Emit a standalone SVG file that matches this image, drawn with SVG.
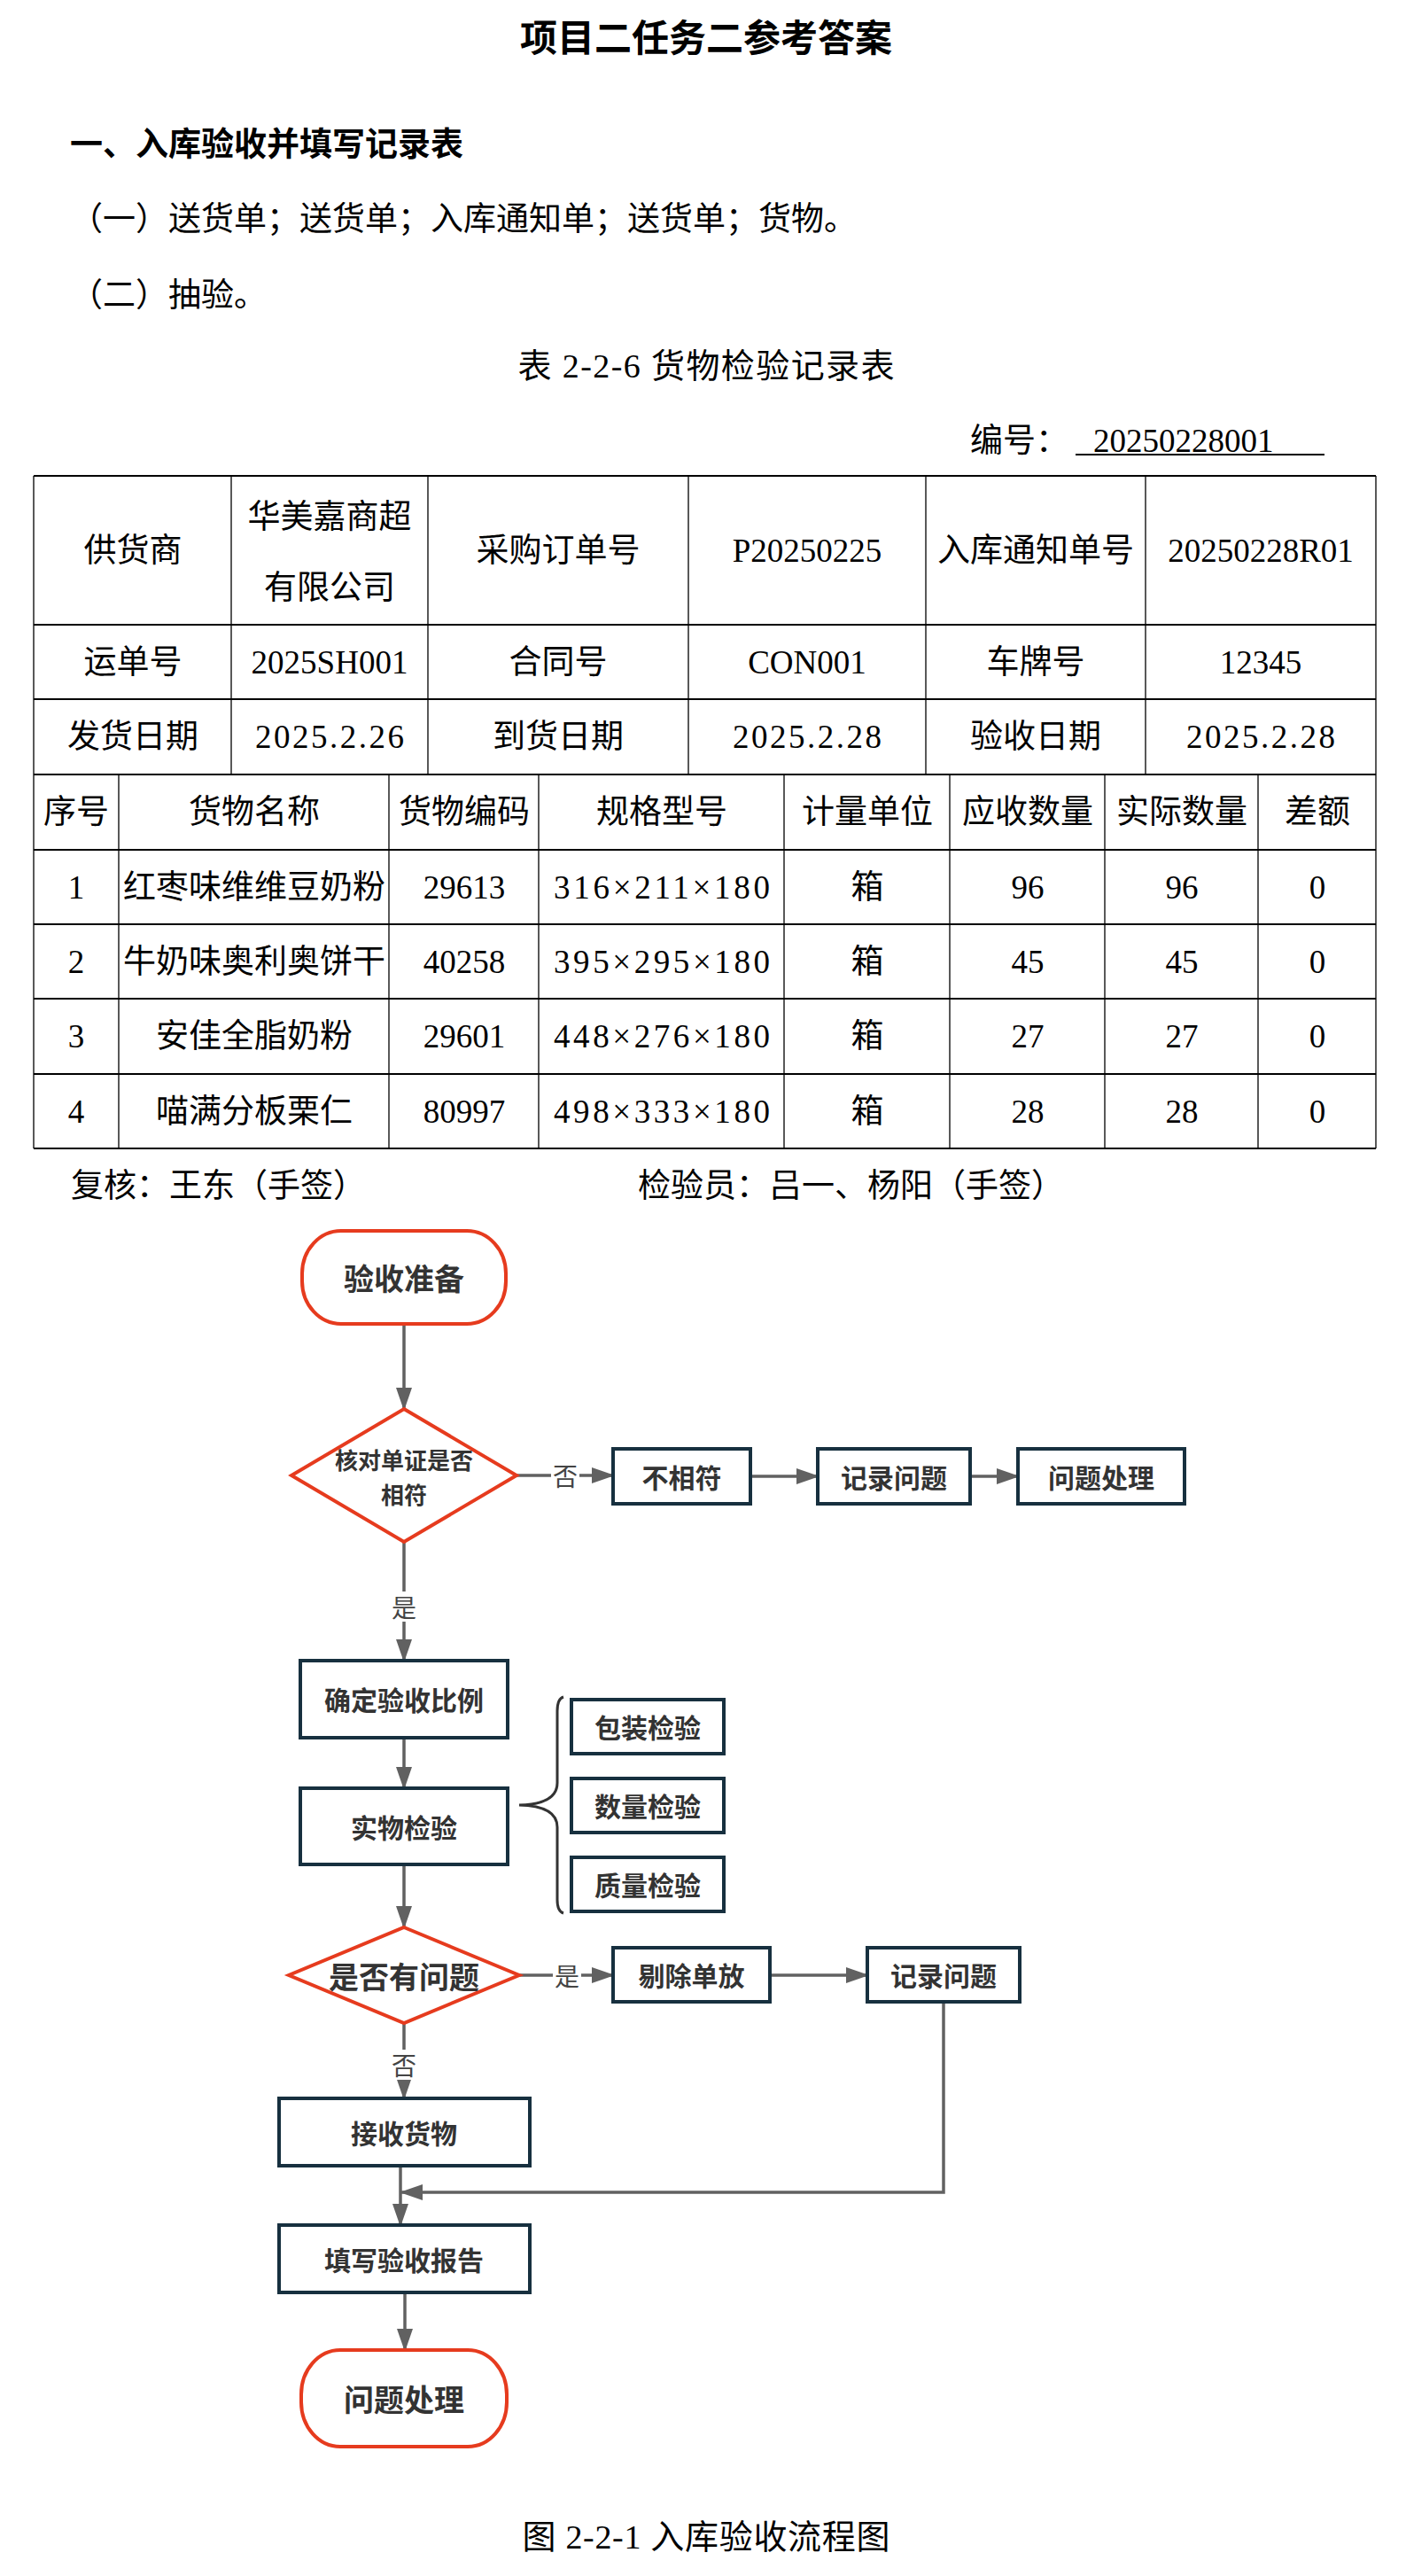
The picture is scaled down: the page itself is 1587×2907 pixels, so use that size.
<svg xmlns="http://www.w3.org/2000/svg" width="1587" height="2907" viewBox="0 0 1587 2907">
<style>
.doc{font-family:"Liberation Serif","Noto Sans CJK SC",serif;fill:#000;}
.t37{font-size:37px;}
.c{text-anchor:middle;dominant-baseline:central;}
.l{dominant-baseline:central;}
.grid{stroke:#000;fill:none;}
.box{fill:#fff;stroke:#17303f;stroke-width:4;}
.red{fill:#fff;stroke:#e63b1e;stroke-width:4;}
.ft{font-family:"Noto Sans CJK SC","Noto Sans",sans-serif;font-weight:bold;fill:#333;text-anchor:middle;dominant-baseline:central;}
.lbl{font-family:"Noto Sans CJK SC","Noto Sans",sans-serif;font-size:28px;fill:#444;text-anchor:middle;dominant-baseline:central;}
.conn{stroke:#616161;stroke-width:3.5;fill:none;}
</style>
<defs>
<marker id="ah" viewBox="0 0 26 18" refX="24" refY="9" markerWidth="26" markerHeight="18" markerUnits="userSpaceOnUse" orient="auto">
<path d="M0,0 L26,9 L0,18 z" fill="#616161"/>
</marker>
</defs>
<rect width="1587" height="2907" fill="#fff"/>

<!-- heading texts -->
<g id="header" class="doc">
<text x="797" y="44" class="c" font-size="42" font-weight="bold">项目二任务二参考答案</text>
<text x="79" y="163" class="l" font-size="37" font-weight="bold">一、入库验收并填写记录表</text>
<text x="79" y="247" class="l t37">（一）送货单；送货单；入库通知单；送货单；货物。</text>
<text x="79" y="333" class="l t37">（二）抽验。</text>
<text x="797" y="413" class="c" font-size="38" textLength="425" lengthAdjust="spacing">表 2-2-6 货物检验记录表</text>
<text x="1095" y="497" class="l t37">编号：</text>
<text x="1234" y="497" class="l t37">20250228001</text>
<line x1="1214" y1="513" x2="1495" y2="513" stroke="#000" stroke-width="2"/>
</g>

<!-- table -->
<g id="table-grid" class="grid">
<path stroke-width="2" d="M38,537H1553 M38,705H1553 M38,789H1553 M38,874H1553 M38,959H1553 M38,1043H1553 M38,1127H1553 M38,1212H1553 M38,1296H1553"/>
<path stroke-width="1.3" d="M38,537V1296 M1553,537V1296 M261,537V874 M483,537V874 M777,537V874 M1045,537V874 M1293,537V874 M134,874V1296 M439,874V1296 M608,874V1296 M885,874V1296 M1072,874V1296 M1247,874V1296 M1420,874V1296"/>
</g>
<g id="table-text" class="doc t37">
<text x="150" y="621" class="c">供货商</text>
<text x="372" y="583" class="c">华美嘉商超</text>
<text x="372" y="663" class="c">有限公司</text>
<text x="630" y="621" class="c">采购订单号</text>
<text x="911" y="621" class="c">P20250225</text>
<text x="1169" y="621" class="c">入库通知单号</text>
<text x="1423" y="621" class="c">20250228R01</text>
<text x="150" y="747" class="c">运单号</text>
<text x="372" y="747" class="c">2025SH001</text>
<text x="630" y="747" class="c">合同号</text>
<text x="911" y="747" class="c">CON001</text>
<text x="1169" y="747" class="c">车牌号</text>
<text x="1423" y="747" class="c">12345</text>
<text x="150" y="831" class="c">发货日期</text>
<text x="372" y="831" class="c" textLength="168" lengthAdjust="spacing">2025.2.26</text>
<text x="630" y="831" class="c">到货日期</text>
<text x="911" y="831" class="c" textLength="168" lengthAdjust="spacing">2025.2.28</text>
<text x="1169" y="831" class="c">验收日期</text>
<text x="1423" y="831" class="c" textLength="168" lengthAdjust="spacing">2025.2.28</text>
<text x="86" y="916" class="c">序号</text>
<text x="287" y="916" class="c">货物名称</text>
<text x="524" y="916" class="c">货物编码</text>
<text x="747" y="916" class="c">规格型号</text>
<text x="979" y="916" class="c">计量单位</text>
<text x="1160" y="916" class="c">应收数量</text>
<text x="1334" y="916" class="c">实际数量</text>
<text x="1487" y="916" class="c">差额</text>
<text x="86" y="1001" class="c">1</text>
<text x="287" y="1001" class="c">红枣味维维豆奶粉</text>
<text x="524" y="1001" class="c">29613</text>
<text x="747" y="1001" class="c" textLength="244" lengthAdjust="spacing">316×211×180</text>
<text x="979" y="1001" class="c">箱</text>
<text x="1160" y="1001" class="c">96</text>
<text x="1334" y="1001" class="c">96</text>
<text x="1487" y="1001" class="c">0</text>
<text x="86" y="1085" class="c">2</text>
<text x="287" y="1085" class="c">牛奶味奥利奥饼干</text>
<text x="524" y="1085" class="c">40258</text>
<text x="747" y="1085" class="c" textLength="244" lengthAdjust="spacing">395×295×180</text>
<text x="979" y="1085" class="c">箱</text>
<text x="1160" y="1085" class="c">45</text>
<text x="1334" y="1085" class="c">45</text>
<text x="1487" y="1085" class="c">0</text>
<text x="86" y="1169" class="c">3</text>
<text x="287" y="1169" class="c">安佳全脂奶粉</text>
<text x="524" y="1169" class="c">29601</text>
<text x="747" y="1169" class="c" textLength="244" lengthAdjust="spacing">448×276×180</text>
<text x="979" y="1169" class="c">箱</text>
<text x="1160" y="1169" class="c">27</text>
<text x="1334" y="1169" class="c">27</text>
<text x="1487" y="1169" class="c">0</text>
<text x="86" y="1254" class="c">4</text>
<text x="287" y="1254" class="c">喵满分板栗仁</text>
<text x="524" y="1254" class="c">80997</text>
<text x="747" y="1254" class="c" textLength="244" lengthAdjust="spacing">498×333×180</text>
<text x="979" y="1254" class="c">箱</text>
<text x="1160" y="1254" class="c">28</text>
<text x="1334" y="1254" class="c">28</text>
<text x="1487" y="1254" class="c">0</text>
</g>
<g id="signatures" class="doc t37">
<text x="80" y="1338" class="l">复核：王东（手签）</text>
<text x="720" y="1338" class="l">检验员：吕一、杨阳（手签）</text>
</g>

<!-- connectors -->
<g id="connectors">
<path class="conn" d="M456,1495V1590" marker-end="url(#ah)"/>
<path class="conn" d="M583,1665H692" marker-end="url(#ah)"/>
<path class="conn" d="M847,1666H923" marker-end="url(#ah)"/>
<path class="conn" d="M1095,1666H1149" marker-end="url(#ah)"/>
<path class="conn" d="M456,1740V1874" marker-end="url(#ah)"/>
<path class="conn" d="M456,1961V2018" marker-end="url(#ah)"/>
<path class="conn" d="M456,2104V2175" marker-end="url(#ah)"/>
<path class="conn" d="M586,2229H692" marker-end="url(#ah)"/>
<path class="conn" d="M869,2229H979" marker-end="url(#ah)"/>
<path class="conn" d="M1065,2259V2474H453" marker-end="url(#ah)"/>
<path class="conn" d="M456,2283V2368" marker-end="url(#ah)"/>
<path class="conn" d="M452,2444V2511" marker-end="url(#ah)"/>
<path class="conn" d="M457,2587V2652" marker-end="url(#ah)"/>
<path d="M636,1915 Q629,1917 629,1931 L629,2012 Q629,2036 586,2037 Q629,2038 629,2062 L629,2144 Q629,2157 636,2159" fill="none" stroke="#333" stroke-width="3"/>
<rect x="622" y="1648" width="32" height="34" fill="#fff"/>
<text x="638" y="1665" class="lbl">否</text>
<rect x="440" y="1796" width="32" height="34" fill="#fff"/>
<text x="456" y="1813" class="lbl">是</text>
<rect x="624" y="2212" width="32" height="34" fill="#fff"/>
<text x="640" y="2229" class="lbl">是</text>
<rect x="440" y="2313" width="32" height="34" fill="#fff"/>
<text x="456" y="2330" class="lbl">否</text>
</g>

<!-- nodes -->
<g id="n-start"><rect class="red" x="341" y="1389" width="230" height="105" rx="44" ry="48"/><text class="ft" x="456" y="1441" font-size="34">验收准备</text></g>
<g id="n-check"><polygon class="red" points="456,1590 583,1665 456,1740 329,1665"/><text class="ft" font-size="26"><tspan x="456" y="1646">核对单证是否</tspan><tspan x="456" y="1685">相符</tspan></text></g>
<g id="n-mismatch"><rect class="box" x="692" y="1635" width="155" height="62"/><text class="ft" x="769.5" y="1666" font-size="30">不相符</text></g>
<g id="n-record1"><rect class="box" x="923" y="1635" width="172" height="62"/><text class="ft" x="1009" y="1666" font-size="30">记录问题</text></g>
<g id="n-handle1"><rect class="box" x="1149" y="1635" width="188" height="62"/><text class="ft" x="1243" y="1666" font-size="30">问题处理</text></g>
<g id="n-ratio"><rect class="box" x="339" y="1874" width="234" height="87"/><text class="ft" x="456" y="1917" font-size="30">确定验收比例</text></g>
<g id="n-physical"><rect class="box" x="339" y="2018" width="234" height="86"/><text class="ft" x="456" y="2061" font-size="30">实物检验</text></g>
<g id="n-pack"><rect class="box" x="645" y="1918" width="172" height="61"/><text class="ft" x="731" y="1948" font-size="30">包装检验</text></g>
<g id="n-qty"><rect class="box" x="645" y="2007" width="172" height="61"/><text class="ft" x="731" y="2037" font-size="30">数量检验</text></g>
<g id="n-quality"><rect class="box" x="645" y="2096" width="172" height="61"/><text class="ft" x="731" y="2126" font-size="30">质量检验</text></g>
<g id="n-problem"><polygon class="red" points="456,2175 586,2229 456,2283 326,2229"/><text class="ft" x="456" y="2229" font-size="34">是否有问题</text></g>
<g id="n-remove"><rect class="box" x="692" y="2198" width="177" height="61"/><text class="ft" x="780.5" y="2228" font-size="30">剔除单放</text></g>
<g id="n-record2"><rect class="box" x="979" y="2198" width="172" height="61"/><text class="ft" x="1065" y="2228" font-size="30">记录问题</text></g>
<g id="n-receive"><rect class="box" x="315" y="2368" width="283" height="76"/><text class="ft" x="456" y="2406" font-size="30">接收货物</text></g>
<g id="n-report"><rect class="box" x="315" y="2511" width="283" height="76"/><text class="ft" x="456" y="2549" font-size="30">填写验收报告</text></g>
<g id="n-end"><rect class="red" x="340" y="2652" width="232" height="109" rx="44" ry="50"/><text class="ft" x="456" y="2706" font-size="34">问题处理</text></g>

<g id="caption" class="doc"><text x="797" y="2863" class="c" font-size="38" textLength="415" lengthAdjust="spacing">图 2-2-1 入库验收流程图</text></g>
</svg>
